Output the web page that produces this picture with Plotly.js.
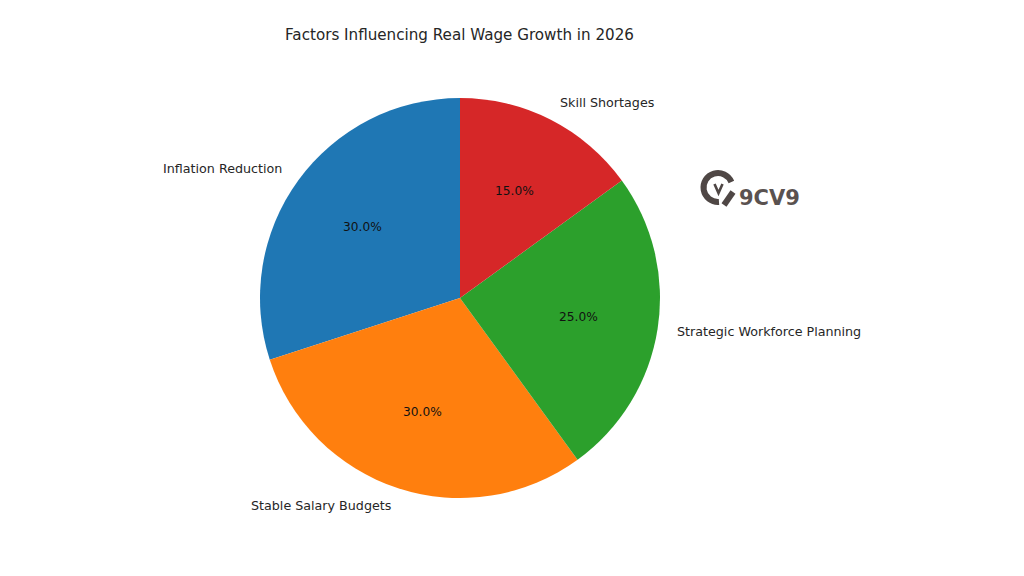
<!DOCTYPE html>
<html><head><meta charset="utf-8"><script src="https://cdn.plot.ly/plotly-3.0.1.min.js"></script>
<style>html,body{margin:0;padding:0;background:#fff}</style></head><body><div id="c" style="width:1024px;height:576px"></div>
<script>
const categories=["Inflation Reduction","Stable Salary Budgets","Strategic Workforce Planning","Skill Shortages"];
const shares=[30,30,25,15];
const colours=["#1f77b4","#ff7f0e","#2ca02c","#d62728"];
const W=1024,H=576,cx=460,cy=298,R=200;
const total=shares.reduce((a,b)=>a+b,0);
const annots=[];
let acc=0;
shares.forEach((v,i)=>{
  const mid=(acc+v/2)/total*2*Math.PI; acc+=v;
  const sx=-Math.sin(mid), sy=-Math.cos(mid);
  annots.push({text:categories[i],x:(cx+1.095*R*sx)/W,y:1-(cy-0.6+1.095*R*sy)/H,xref:'paper',yref:'paper',showarrow:false,
    xanchor:sx<0?'right':'left',yanchor:'middle',borderpad:0,
    font:{family:'DejaVu Sans',size:12.7,color:'#262626'}});
  annots.push({text:v.toFixed(1)+'%',x:(cx+0.6*R*sx)/W,y:1-(cy+0.6*R*sy)/H,xref:'paper',yref:'paper',showarrow:false,
    xanchor:'center',yanchor:'middle',borderpad:0,
    font:{family:'DejaVu Sans',size:12.2,color:'#111'}});
});
annots.push({text:'<b>9CV9</b>',x:738/W,y:1-198/H,xref:'paper',yref:'paper',showarrow:false,xanchor:'left',yanchor:'middle',borderpad:0,
  font:{family:'DejaVu Sans',size:21,color:'#5a5250'}});
const logo='<svg xmlns="http://www.w3.org/2000/svg" width="40" height="40" viewBox="0 0 40 40">'
 +'<path d="M32.4 14 A14.5 14.5 0 1 0 20 34" fill="none" stroke="#4f4745" stroke-width="6"/>'
 +'<path d="M34 24 L25 37" fill="none" stroke="#4f4745" stroke-width="6"/>'
 +'<path d="M15.5 16 L19.5 25 L23.5 16" fill="none" stroke="#4f4745" stroke-width="2.6"/></svg>';
Plotly.newPlot('c',[{type:'pie',labels:categories,values:shares,sort:false,direction:'counterclockwise',rotation:-108,
 marker:{colors:colours,line:{width:0}},textinfo:'none',domain:{x:[(cx-R)/W,(cx+R)/W],y:[1-(cy+R)/H,1-(cy-R)/H]},showlegend:false,hoverinfo:'skip'}],
 {width:W,height:H,margin:{l:0,r:0,t:0,b:0},paper_bgcolor:'#fff',showlegend:false,
 title:{text:'Factors Influencing Real Wage Growth in 2026',x:459.5/W,xanchor:'center',y:1-35/H,yanchor:'middle',font:{family:'DejaVu Sans',size:15.15,color:'#262626'}},
 images:[{source:'data:image/svg+xml;utf8,'+encodeURIComponent(logo),xref:'paper',yref:'paper',x:699/W,y:1-168/H,sizex:40/W,sizey:40/H,sizing:'stretch',xanchor:'left',yanchor:'top',layer:'above'}],
 annotations:annots},{displayModeBar:false});
</script></body></html>
